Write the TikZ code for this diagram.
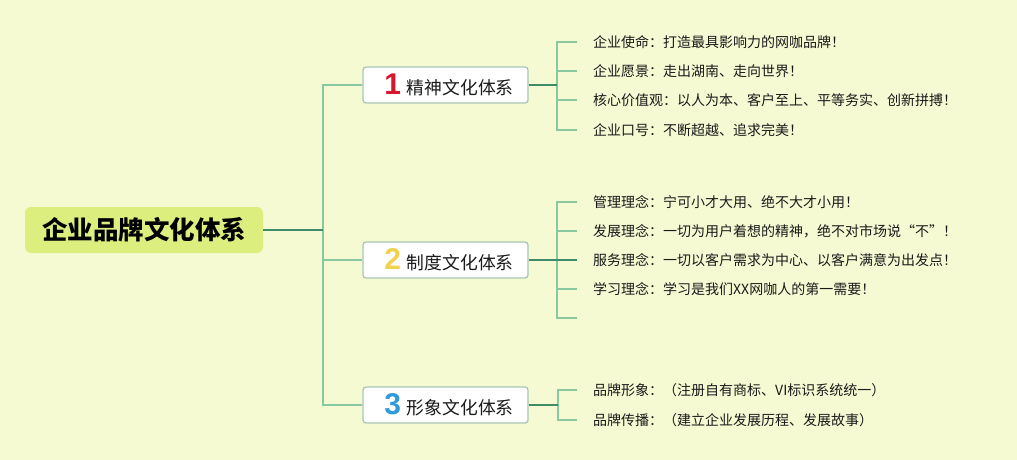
\documentclass[tikz,border=0pt]{standalone}
\usepackage{fontspec}
\setmainfont{Noto Sans CJK SC}
\newfontfamily\numfont{Liberation Sans}
\definecolor{bgc}{HTML}{F5FAD3}
\definecolor{rootfill}{HTML}{DCEE7E}
\definecolor{darkln}{HTML}{3F8C6B}
\definecolor{lightln}{HTML}{88C9A2}
\definecolor{boxbd}{HTML}{A8C6B2}
\definecolor{txt}{HTML}{1A1A1A}
\definecolor{numa}{HTML}{D8162D}
\definecolor{numb}{HTML}{F1D24E}
\definecolor{numc}{HTML}{2F9BDA}
\begin{document}
\begin{tikzpicture}[x=1pt,y=-1pt,
  rootbox/.style={fill=rootfill,rounded corners=6pt,minimum width=238pt,minimum height=46pt,inner sep=0pt,text=black,font=\fontsize{25.5}{28}\selectfont\bfseries},
  branchbox/.style={fill=white,draw=boxbd,line width=1.3pt,rounded corners=3pt,minimum width=165pt,minimum height=36pt,inner sep=0pt,text=txt,font=\fontsize{17.8}{20}\selectfont},
  leaf/.style={anchor=west,inner sep=0pt,text=txt,font=\fontsize{14}{16}\selectfont},
  darkline/.style={draw=darkln,line width=1.8pt},
  lightline/.style={draw=lightln,line width=1.8pt}
]
\useasboundingbox (0,0) rectangle (1017,460);
\fill[bgc] (0,0) rectangle (1017,460);

\node[rootbox] (root) at (144,230) {企业品牌文化体系};

\node[branchbox] (b1) at (445.5,85) {\hspace*{7pt}{\numfont\bfseries\fontsize{30}{30}\selectfont\color{numa}1}\hspace{6pt}精神文化体系};
\node[branchbox] (b2) at (445.5,260) {\hspace*{7pt}{\numfont\bfseries\fontsize{30}{30}\selectfont\color{numb}2}\hspace{6pt}制度文化体系};
\node[branchbox] (b3) at (445.5,405) {\hspace*{7pt}{\numfont\bfseries\fontsize{30}{30}\selectfont\color{numc}3}\hspace{6pt}形象文化体系};

\coordinate (j0) at (323,230);
\draw[lightline] (b1.west) -| (j0) |- (b3.west);
\draw[lightline] (j0) |- (b2.west);
\draw[darkline] (root.east) -- (j0);

% branch 1
\node[leaf] (l11) at (593,42) {企业使命：打造最具影响力的网咖品牌！};
\node[leaf] (l12) at (593,71) {企业愿景：走出湖南、走向世界！};
\node[leaf] (l13) at (593,100) {核心价值观：以人为本、客户至上、平等务实、创新拼搏！};
\node[leaf] (l14) at (593,130) {企业口号：不断超越、追求完美！};
\coordinate (s1) at (557,85);
\draw[lightline] ([xshift=-16pt]l11.west) -| (s1) |- ([xshift=-16pt]l14.west);
\draw[lightline] (s1) |- ([xshift=-16pt]l12.west);
\draw[lightline] (s1) |- ([xshift=-16pt]l13.west);
\draw[darkline] (b1.east) -- (s1);

% branch 2
\node[leaf] (l21) at (593,202) {管理理念：宁可小才大用、绝不大才小用！};
\node[leaf] (l22) at (593,231) {发展理念：一切为用户着想的精神，绝不对市场说“不”！};
\node[leaf] (l23) at (593,260) {服务理念：一切以客户需求为中心、以客户满意为出发点！};
\node[leaf] (l24) at (593,289) {学习理念：学习是我们XX网咖人的第一需要！};
\coordinate (e25) at (577,318);
\coordinate (s2) at (557,260);
\draw[lightline] ([xshift=-16pt]l21.west) -| (s2) |- (e25);
\draw[lightline] (s2) |- ([xshift=-16pt]l22.west);
\draw[lightline] (s2) |- ([xshift=-16pt]l24.west);
\draw[darkline] (b2.east) -- (s2) -- ([xshift=-16pt]l23.west);

% branch 3
\node[leaf] (l31) at (593,390) {品牌形象：（注册自有商标、VI标识系统统一）};
\node[leaf] (l32) at (593,420) {品牌传播：（建立企业发展历程、发展故事）};
\coordinate (s3) at (558,405);
\draw[lightline] ([xshift=-16pt]l31.west) -| (s3) |- ([xshift=-16pt]l32.west);
\draw[darkline] (b3.east) -- (s3);
\end{tikzpicture}
\end{document}
